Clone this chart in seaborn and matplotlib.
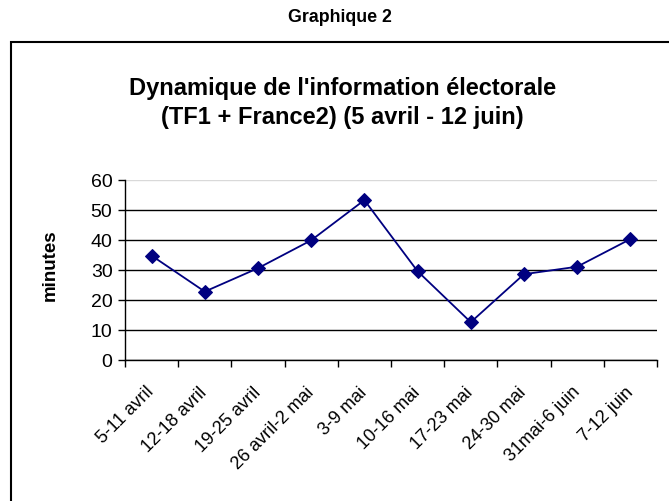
import pandas as pd
import seaborn as sns
import matplotlib.pyplot as plt
from matplotlib.patches import Rectangle

semaines = ['5-11 avril', '12-18 avril', '19-25 avril', '26 avril-2 mai', '3-9 mai',
            '10-16 mai', '17-23 mai', '24-30 mai', '31mai-6 juin', '7-12 juin']
minutes = [34.7, 22.7, 30.5, 39.8, 53.2, 29.5, 12.5, 28.5, 31.0, 40.2]
y_ticks = [0, 10, 20, 30, 40, 50, 60]

sns.set_style('white')
plt.rcParams['font.family'] = ['Liberation Sans', 'DejaVu Sans']
plt.rcParams['text.color'] = 'black'
plt.rcParams['axes.labelcolor'] = 'black'
plt.rcParams['xtick.color'] = 'black'
plt.rcParams['ytick.color'] = 'black'

df = pd.DataFrame({'semaine': semaines, 'minutes': minutes})

fig = plt.figure(figsize=(6.69, 5.02), dpi=100)
ax = fig.add_axes([0.1868, 0.2815, 0.7952, 0.3585])

sns.lineplot(data=df, x='semaine', y='minutes', sort=False, ax=ax,
             color='#000080', linewidth=1.3, marker='D', markersize=7,
             markeredgecolor='#000080', markerfacecolor='#000080')

ax.set_xlim(-0.5, len(semaines) - 0.5)
ax.set_ylim(0, 60)
ax.set_yticks(y_ticks)
ax.set_yticklabels([str(t) for t in y_ticks], fontsize=14)

# ticks between categories, labels centered
ax.set_xticks(range(len(semaines)))
ax.set_xticklabels(semaines, rotation=45, ha='right', va='center',
                   rotation_mode='anchor', fontsize=13)
ax.set_xticks([i - 0.5 for i in range(len(semaines) + 1)], minor=True)
ax.tick_params(axis='x', which='major', length=0, pad=21)
ax.tick_params(axis='x', which='minor', length=5, width=1, color='black', bottom=True)
ax.tick_params(axis='y', length=5, width=1, color='black', left=True, pad=4)

ax.set_xlabel('')
ax.set_ylabel('minutes', fontsize=13.5, fontweight='bold')
ax.yaxis.set_label_coords(-0.125, 0.533)

ax.yaxis.grid(True, color='black', linewidth=1)
for val, gl in zip(y_ticks, ax.get_ygridlines()):
    if val == 60:
        gl.set_color('#d9d9d9')
ax.set_axisbelow(True)

for side in ['top', 'right']:
    ax.spines[side].set_visible(False)
for side in ['left', 'bottom']:
    ax.spines[side].set_color('black')
    ax.spines[side].set_linewidth(1)

fig.text(0.512, 1 - 103 / 502, "Dynamique de l'information électorale\n(TF1 + France2) (5 avril - 12 juin)",
         ha='center', va='center', fontsize=17, fontweight='bold', linespacing=1.35)
fig.text(0.508, 1 - 17 / 502, 'Graphique 2', ha='center', va='center',
         fontsize=12.8, fontweight='bold')

fig.patches.append(Rectangle((11 / 669, -0.1), 1.2, 0.1 + 1 - 43 / 502, transform=fig.transFigure,
                             fill=False, edgecolor='black', linewidth=1.5, figure=fig))

fig.savefig('out.png', dpi=100)
